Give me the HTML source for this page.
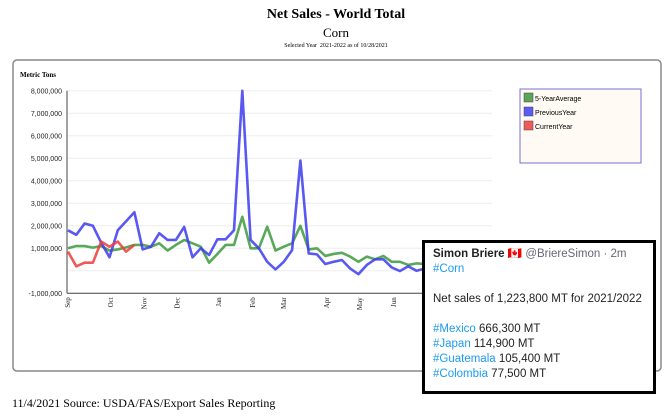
<!DOCTYPE html>
<html><head><meta charset="utf-8">
<style>
body{margin:0;width:672px;height:417px;background:#fff;overflow:hidden;position:relative;font-family:"Liberation Serif",serif}
.t{position:absolute;left:0;width:672px;text-align:center}
</style></head><body>
<div class="t" style="top:7px;font-size:14px;font-weight:bold">Net Sales - World Total</div>
<div class="t" style="top:25px;font-size:13px">Corn</div>
<div class="t" style="top:43px;font-size:6px">Selected Year&nbsp; 2021-2022 as of 10/28/2021</div>
<svg id="ch" width="672" height="417" style="position:absolute;left:0;top:0">
<rect x="13" y="60" width="648" height="311" rx="4" fill="none" stroke="#888" stroke-width="1.5"/>
<text x="20" y="77" font-size="7" font-weight="bold" font-family="Liberation Serif">Metric Tons</text>
<g id="grid"></g><g id="lines"></g>
<g>
<rect x="520" y="89" width="121" height="74" fill="#fffaf4" stroke="#7a70d0"/>
<rect x="524" y="93" width="9" height="9" fill="#5aa55a" stroke="#444" stroke-width="0.5"/><text x="535" y="101" font-size="7" font-family="Liberation Sans">5-YearAverage</text>
<rect x="524" y="107" width="9" height="9" fill="#5b5bf5" stroke="#444" stroke-width="0.5"/><text x="535" y="115" font-size="7" font-family="Liberation Sans">PreviousYear</text>
<rect x="524" y="121" width="9" height="9" fill="#f05a5a" stroke="#444" stroke-width="0.5"/><text x="535" y="129" font-size="7" font-family="Liberation Sans">CurrentYear</text>
</g>
</svg>
<div style="position:absolute;left:422px;top:240px;width:220px;height:144px;border:3px solid #000;background:#fff;font-family:'Liberation Sans',sans-serif;font-size:11.5px;line-height:15px;padding:4px 0 0 8px;box-sizing:content-box;color:#222;overflow:hidden">
<div><b>Simon Briere</b> <span style="color:#d33">🇨🇦</span> <span style="color:#667">@BriereSimon · 2m</span></div>
<div style="color:#1d9bf0">#Corn</div><br>
<div>Net sales of 1,223,800 MT for 2021/2022</div><br>
<div><span style="color:#1d9bf0">#Mexico</span> 666,300 MT</div>
<div><span style="color:#1d9bf0">#Japan</span> 114,900 MT</div>
<div><span style="color:#1d9bf0">#Guatemala</span> 105,400 MT</div>
<div><span style="color:#1d9bf0">#Colombia</span> 77,500 MT</div>
</div>
<div style="position:absolute;left:12px;top:396px;font-size:12px">11/4/2021 Source: USDA/FAS/Export Sales Reporting</div>
<script>
const yTicks=[-1,0,1,2,3,4,5,6,7,8];
const months=["Sep","Oct","Nov","Dec","Jan","Feb","Mar","Apr","May","Jun","Jul","Aug"];
const monthWeek=[0,5.2,9.2,13.2,18.2,22.3,26,31.2,35.2,39.3,43.5,47.8];
const prevYear=[1.8,1.6,2.1,2.0,1.25,0.6,1.8,2.2,2.6,0.95,1.07,1.67,1.37,1.37,1.95,0.6,1.0,0.7,1.4,1.4,1.8,8.0,1.37,1.0,0.4,0.06,0.4,0.92,4.9,0.77,0.73,0.3,0.4,0.48,0.1,-0.15,0.26,0.51,0.51,0.15,-0.01,0.2,0,0.1,0.3,0.2,0.1,0.3,0.2,0.1,0.2,0.3];
const fiveYear=[1.0,1.1,1.1,1.03,1.1,0.9,0.95,1.04,1.15,1.15,1.07,1.22,0.9,1.15,1.37,1.22,1.07,0.36,0.75,1.15,1.15,2.4,1.0,1.0,1.96,0.9,1.07,1.22,2.0,0.95,1.0,0.66,0.75,0.8,0.63,0.4,0.63,0.51,0.66,0.4,0.4,0.26,0.33,0.3,0.35,0.4,0.3,0.35,0.4,0.45,0.4,0.5];
const currentYear=[0.85,0.2,0.36,0.36,1.3,1.07,1.3,0.85,1.15];
const NS="http://www.w3.org/2000/svg";
const X=i=>68+i*8.3, Y=v=>270.8-v*22.5;
const grid=document.getElementById('grid'), lines=document.getElementById('lines');
function mk(t,a,p){const e=document.createElementNS(NS,t);for(const k in a)e.setAttribute(k,a[k]);p.appendChild(e);return e;}
yTicks.forEach(v=>{
  if(v>-1){const g=mk('line',{x1:67,x2:492,y1:Y(v),y2:Y(v),stroke:'#eee','stroke-width':1},grid);
  
  }
  if(v!==0){const t=mk('text',{x:62,y:Y(v)+2.5,'text-anchor':'end','font-size':7,'font-family':'Liberation Sans',fill:'#222'},grid);
  t.textContent=(v*1000000).toLocaleString('en-US');
  
  }
});
mk('line',{x1:67,x2:67,y1:Y(8),y2:Y(-1),stroke:'#444','stroke-width':1},grid);
mk('line',{x1:67,x2:492,y1:Y(-1),y2:Y(-1),stroke:'#444','stroke-width':1},grid);
months.forEach((m,i)=>{const x=X(monthWeek[i])+2;const t=mk('text',{x:0,y:0,transform:`translate(${x},${Y(-1)+4}) rotate(-90)`,'text-anchor':'end','font-size':7,'font-family':'Liberation Serif',fill:'#222'},grid);
t.textContent=m;

});
function series(d,c,n){const p=mk('polyline',{points:d.map((v,i)=>X(i)+','+Y(v)).join(' '),fill:'none',stroke:c,'stroke-width':2.6,'stroke-linejoin':'round',opacity:0.85},lines);

}
series(fiveYear,'#3d9a3d','line-5-year-average');
series(prevYear,'#3c3cf0','line-previous-year');
series(currentYear,'#ee3c3c','line-current-year');
</script>
</body></html>
